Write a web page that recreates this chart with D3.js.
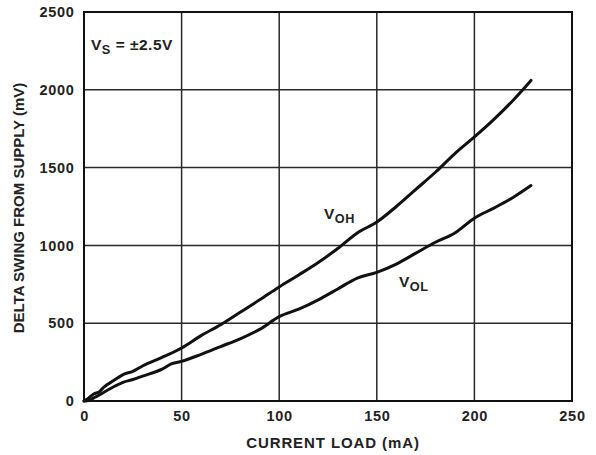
<!DOCTYPE html>
<html><head><meta charset="utf-8">
<script src="https://cdn.jsdelivr.net/npm/d3@7"></script>
<style>body{margin:0;background:#fff;}svg{display:block;font-family:"Liberation Sans",Arial,sans-serif;}</style>
</head><body>
<svg id="c" width="596" height="455"></svg>
<script>
const xTicks = [0, 50, 100, 150, 200, 250];
const yTicks = [0, 500, 1000, 1500, 2000, 2500];
const vohLoad = [0, 2, 5, 8, 10, 15, 20, 25, 30, 40, 50, 60, 70, 80, 90, 100, 110, 120, 130, 140, 150, 160, 170, 180, 190, 200, 210, 220, 229];
const vohVal  = [0, 15, 45, 60, 87, 130, 170, 191, 225, 280, 341, 420, 490, 570, 650, 733, 810, 890, 980, 1080, 1150, 1250, 1360, 1470, 1590, 1697, 1810, 1935, 2060];
const volLoad = [0, 3, 5, 8, 10, 15, 20, 25, 30, 40, 45, 50, 60, 70, 80, 90, 100, 110, 120, 130, 140, 150, 160, 170, 180, 190, 200, 210, 220, 229];
const volVal  = [0, 5, 20, 40, 55, 90, 120, 138, 160, 205, 240, 255, 300, 350, 400, 460, 542, 590, 650, 720, 790, 827, 880, 950, 1020, 1080, 1175, 1240, 1310, 1385];

const svg = d3.select("#c");
const L = 84, R = 572, T = 12, B = 401;
const x = d3.scaleLinear().domain([0, 250]).range([L, R]);
const y = d3.scaleLinear().domain([0, 2500]).range([B, T]);
const ink = "#222";

// grid
const g = svg.append("g");
g.selectAll(".vx").data(xTicks.slice(1, -1)).enter().append("line")
  .attr("x1", d => x(d)).attr("x2", d => x(d)).attr("y1", T).attr("y2", B)
  .attr("stroke", "#2a2a2a").attr("stroke-width", 1.5);
g.selectAll(".hy").data(yTicks.slice(1, -1)).enter().append("line")
  .attr("y1", d => y(d)).attr("y2", d => y(d)).attr("x1", L).attr("x2", R)
  .attr("stroke", "#2a2a2a").attr("stroke-width", 1.5);
svg.append("rect").attr("x", L).attr("y", T).attr("width", R - L).attr("height", B - T)
  .attr("fill", "none").attr("stroke", "#111").attr("stroke-width", 2);

// axes
const xa = svg.append("g").attr("transform", `translate(0,${B})`)
  .call(d3.axisBottom(x).tickValues(xTicks).tickSize(0).tickPadding(10).tickFormat(d3.format("d")));
const ya = svg.append("g").attr("transform", `translate(${L},0)`)
  .call(d3.axisLeft(y).tickValues(yTicks).tickSize(0).tickPadding(10).tickFormat(d3.format("d")));
[xa, ya].forEach(a => {
  a.select(".domain").remove();
  a.selectAll("text").attr("font-size", 14.5).attr("font-weight", "bold").attr("fill", ink)
    .attr("letter-spacing", 0.7)
    .attr("font-family", "'Liberation Sans',Arial,sans-serif");
});
ya.selectAll("text").attr("dx", 0.5);

svg.append("text").attr("x", 333).attr("y", 448).attr("text-anchor", "middle")
  .attr("font-size", 15).attr("font-weight", "bold").attr("fill", ink).attr("letter-spacing", 0.9)
  .text("CURRENT LOAD (mA)");
svg.append("text").attr("transform", `translate(24,208) rotate(-90)`).attr("text-anchor", "middle")
  .attr("font-size", 15).attr("font-weight", "bold").attr("fill", ink).text("DELTA SWING FROM SUPPLY (mV)");

// curves
const line = d3.line().x(d => x(d[0])).y(d => y(d[1])).curve(d3.curveMonotoneX);
svg.append("path").datum(vohLoad.map((d, i) => [d, vohVal[i]])).attr("d", line)
  .attr("fill", "none").attr("stroke", "#111").attr("stroke-width", 3).attr("stroke-linejoin", "round").attr("stroke-linecap", "round");
svg.append("path").datum(volLoad.map((d, i) => [d, volVal[i]])).attr("d", line)
  .attr("fill", "none").attr("stroke", "#111").attr("stroke-width", 3).attr("stroke-linejoin", "round").attr("stroke-linecap", "round");

// labels
function lab(px, py, main, sub, rest, size) {
  const t = svg.append("text").attr("x", px).attr("y", py).attr("font-size", size).attr("font-weight", "bold")
    .attr("fill", ink).attr("letter-spacing", 0.5);
  t.append("tspan").text(main);
  t.append("tspan").attr("dy", 4).attr("font-size", size * 0.82).text(sub);
  if (rest) t.append("tspan").attr("dy", -4).text(rest);
}
lab(91, 50, "V", "S", " = ±2.5V", 15.5);
lab(324, 219, "V", "OH", null, 15.5);
lab(399, 287, "V", "OL", null, 15.5);
</script>
</body></html>
